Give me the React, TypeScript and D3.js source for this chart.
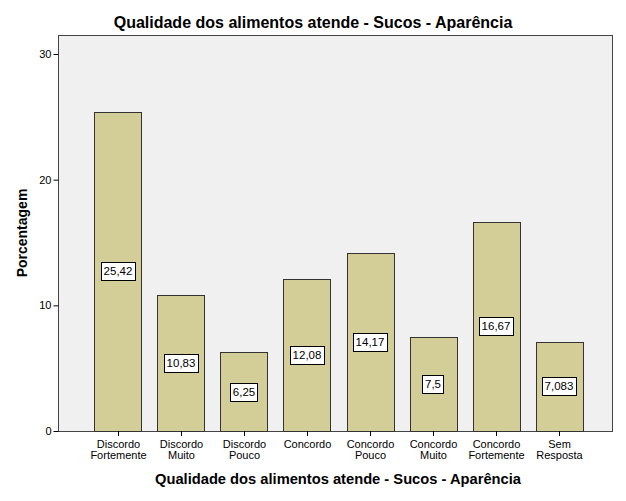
import { useEffect, useRef } from "react"
import * as d3 from "d3"

const categories = [
  ["Discordo", "Fortemente"],
  ["Discordo", "Muito"],
  ["Discordo", "Pouco"],
  ["Concordo"],
  ["Concordo", "Pouco"],
  ["Concordo", "Muito"],
  ["Concordo", "Fortemente"],
  ["Sem", "Resposta"],
]
const values = [25.42, 10.83, 6.25, 12.08, 14.17, 7.5, 16.67, 7.083]
const valueLabels = ["25,42", "10,83", "6,25", "12,08", "14,17", "7,5", "16,67", "7,083"]
const yTicks = [0, 10, 20, 30]

const title = "Qualidade dos alimentos atende - Sucos - Aparência"
const yTitle = "Porcentagem"

export default function App() {
  const svgRef = useRef<SVGSVGElement>(null)

  useEffect(() => {
    if (!svgRef.current) return
    d3.select(svgRef.current).selectAll("*").remove()

    const width = 626
    const height = 501
    const left = 58
    const right = 612
    const top = 35
    const bottom = 431
    const font = "'Liberation Sans', Arial, sans-serif"

    const svg = d3.select(svgRef.current).attr("width", width).attr("height", height)

    svg.append("rect").attr("width", width).attr("height", height).attr("fill", "#ffffff")

    // bands sit a little right of the frame's centre, as in the original
    const x = d3
      .scaleBand<number>()
      .domain(d3.range(values.length))
      .range([left + 3.5, right + 3.5])
      .paddingInner(0.255)
      .paddingOuter(0.52)

    const y = d3.scaleLinear().domain([0, 30]).range([bottom, bottom - 377])

    // plot background
    svg
      .append("rect")
      .attr("x", left + 0.5)
      .attr("y", top + 0.5)
      .attr("width", right - left)
      .attr("height", bottom - top)
      .attr("fill", "#f0f0f0")
      .attr("stroke", "#444")
      .attr("stroke-width", 1)

    // bars
    svg
      .selectAll(".bar")
      .data(values)
      .enter()
      .append("rect")
      .attr("class", "bar")
      .attr("x", (_, i) => Math.round(x(i)!) + 0.5)
      .attr("y", (d) => Math.round(y(d)) + 0.5)
      .attr("width", Math.round(x.bandwidth()))
      .attr("height", (d) => Math.round(y(0)) - Math.round(y(d)))
      .attr("fill", "#d3ce97")
      .attr("stroke", "#333")
      .attr("stroke-width", 1)

    // value labels
    const lab = svg
      .selectAll(".lab")
      .data(values)
      .enter()
      .append("g")
      .attr("class", "lab")
      .attr("transform", (d, i) => `translate(${Math.round(x(i)! + x.bandwidth() / 2)},${Math.round(y(d / 2))})`)

    lab
      .append("text")
      .attr("text-anchor", "middle")
      .attr("dy", "0.36em")
      .style("font-family", font)
      .style("font-size", "11.5px")
      .attr("fill", "#000")
      .text((_, i) => valueLabels[i])
      .each(function () {
        const bb = (this as SVGTextElement).getBBox()
        d3.select((this as SVGTextElement).parentNode as SVGGElement)
          .insert("rect", "text")
          .attr("x", Math.round(bb.x - 3) + 0.5)
          .attr("y", -8.5)
          .attr("width", Math.round(bb.width + 5))
          .attr("height", 18)
          .attr("fill", "#fff")
          .attr("stroke", "#000")
          .attr("stroke-width", 1)
      })

    // y axis
    const yAxis = svg
      .append("g")
      .attr("transform", `translate(${left + 0.5},0)`)
      .call(d3.axisLeft(y).tickValues(yTicks).tickSize(5).tickPadding(2).tickFormat(d3.format("d")))
    yAxis.select(".domain").remove()
    yAxis.selectAll("line").attr("stroke", "#000")
    yAxis.selectAll("text").style("font-family", font).style("font-size", "11px").attr("fill", "#000")

    // x ticks and labels
    const xg = svg.append("g")
    categories.forEach((c, i) => {
      const cx = Math.round(x(i)! + x.bandwidth() / 2) + 0.5
      xg.append("line")
        .attr("x1", cx)
        .attr("x2", cx)
        .attr("y1", bottom)
        .attr("y2", bottom + 5)
        .attr("stroke", "#000")
      const t = xg
        .append("text")
        .attr("x", cx)
        .attr("y", bottom + 17)
        .attr("text-anchor", "middle")
        .style("font-family", font)
        .style("font-size", "11px")
        .attr("fill", "#000")
      c.forEach((line, j) => {
        t.append("tspan").attr("x", cx).attr("dy", j === 0 ? 0 : 10.5).text(line)
      })
    })

    // titles
    svg
      .append("text")
      .attr("x", 313)
      .attr("y", 28)
      .attr("text-anchor", "middle")
      .style("font-family", font)
      .style("font-size", "16px")
      .style("font-weight", "bold")
      .text(title)

    svg
      .append("text")
      .attr("x", 338)
      .attr("y", 484)
      .attr("text-anchor", "middle")
      .style("font-family", font)
      .style("font-size", "14.7px")
      .style("font-weight", "bold")
      .text(title)

    svg
      .append("text")
      .attr("transform", `translate(27,233) rotate(-90)`)
      .attr("text-anchor", "middle")
      .style("font-family", font)
      .style("font-size", "14px")
      .style("font-weight", "bold")
      .text(yTitle)
  }, [])

  return <svg ref={svgRef} style={{ position: "absolute", left: 0, top: 0 }}></svg>
}
